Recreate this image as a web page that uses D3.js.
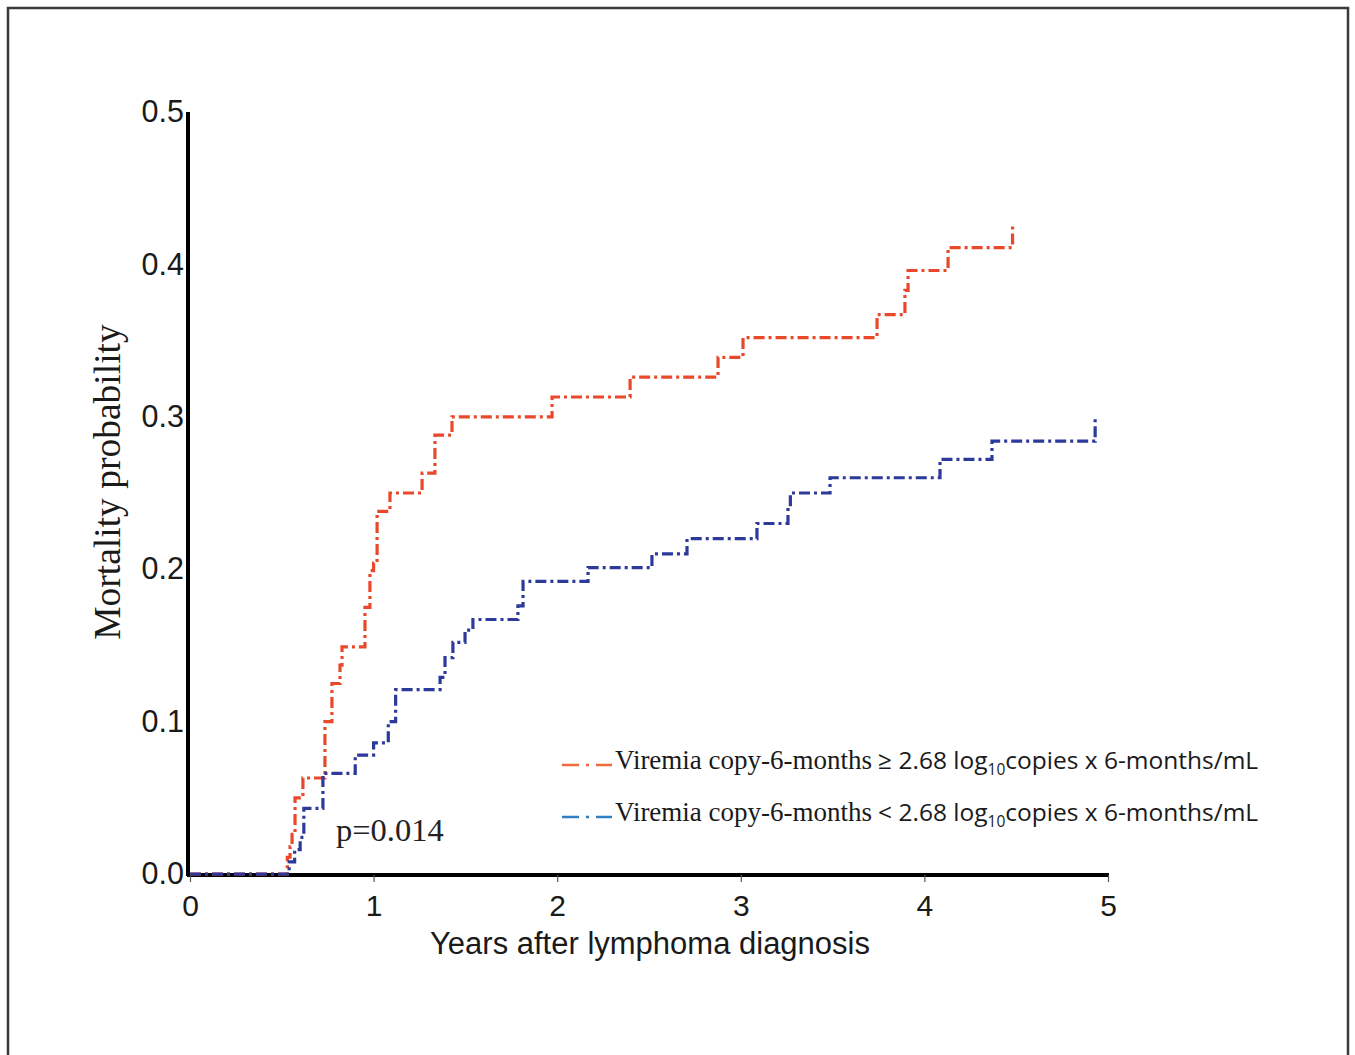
<!DOCTYPE html>
<html>
<head>
<meta charset="utf-8">
<script src="https://cdn.jsdelivr.net/npm/d3@7"></script>
<style>
  body { margin: 0; background: #fff; }
  svg { display: block; }
</style>
</head>
<body>
<div id="chart"></div>
<script>
// Kaplan-Meier style cumulative mortality
const redTimes  = [0, 0.53, 0.545, 0.556, 0.572, 0.615, 0.735, 0.773, 0.817, 0.828, 0.953, 0.98, 1.0, 1.019, 1.089, 1.264, 1.334, 1.427, 1.972, 2.397, 2.876, 3.012, 3.742, 3.894, 3.911, 4.129, 4.48];
const redProbs  = [0, 0.011, 0.018, 0.026, 0.05, 0.063, 0.1, 0.125, 0.137, 0.149, 0.175, 0.199, 0.204, 0.238, 0.25, 0.263, 0.288, 0.30, 0.313, 0.326, 0.339, 0.352, 0.367, 0.383, 0.396, 0.411, 0.425];

const blueTimes = [0, 0.54, 0.57, 0.60, 0.62, 0.724, 0.90, 1.00, 1.08, 1.12, 1.362, 1.389, 1.432, 1.498, 1.541, 1.786, 1.814, 2.168, 2.516, 2.707, 3.088, 3.257, 3.27, 3.486, 4.085, 4.368, 4.93];
const blueProbs = [0, 0.008, 0.016, 0.024, 0.043, 0.066, 0.078, 0.086, 0.10, 0.121, 0.129, 0.142, 0.152, 0.16, 0.167, 0.176, 0.192, 0.201, 0.21, 0.22, 0.23, 0.241, 0.25, 0.26, 0.272, 0.284, 0.299];

const xTicks = [0, 1, 2, 3, 4, 5];
const yTicks = [0, 0.1, 0.2, 0.3, 0.4, 0.5];

const series = [
  {name: "high", times: redTimes, probs: redProbs, color: "#e9482b", legendColor: "#ec6a3c",
   pre: "Viremia copy-6-months", sym: "\u2265"},
  {name: "low", times: blueTimes, probs: blueProbs, color: "#2d3a9c", legendColor: "#2f7fc1",
   pre: "Viremia copy-6-months", sym: "<"}
];

const W = 1355, H = 1055;
const margin = {left: 190, top: 112, right: 247, bottom: 181};
const width = W - margin.left - margin.right,
      height = H - margin.top - margin.bottom;

const svg = d3.select("#chart").append("svg")
  .attr("width", W)
  .attr("height", H);

// outer frame
svg.append("rect")
  .attr("x", 8).attr("y", 8)
  .attr("width", 1340).attr("height", 1060)
  .attr("fill", "#fff")
  .attr("stroke", "#3a3a3a")
  .attr("stroke-width", 2.5);

const g = svg.append("g")
  .attr("transform", "translate(" + margin.left + "," + margin.top + ")");

const x = d3.scaleLinear().domain([0, 5]).range([0, width]);
const y = d3.scaleLinear().domain([0, 0.5]).range([height, 0]);

// x axis
const xAxis = g.append("g")
  .attr("transform", "translate(0," + (height + 1) + ")")
  .call(d3.axisBottom(x).tickValues(xTicks).tickSize(7).tickPadding(13).tickFormat(d3.format("d")));
xAxis.select(".domain").attr("stroke", "#000").attr("stroke-width", 4)
  .attr("d", "M-3,0H" + (width + 1));
xAxis.selectAll(".tick line").attr("stroke", "#555").attr("stroke-width", 1.2);
xAxis.selectAll(".tick text")
  .attr("fill", "#1a1a1a")
  .style("font-family", "'Liberation Sans', Arial, sans-serif")
  .style("font-size", "30px");

// y axis
const yAxis = g.append("g")
  .attr("transform", "translate(-2,0)")
  .call(d3.axisLeft(y).tickValues(yTicks).tickSize(0).tickPadding(4).tickFormat(d3.format(".1f")));
yAxis.select(".domain").attr("stroke", "#000").attr("stroke-width", 4)
  .attr("d", "M0,0V" + (height + 2));
yAxis.selectAll(".tick text")
  .attr("fill", "#1a1a1a")
  .style("font-family", "'Liberation Sans', Arial, sans-serif")
  .style("font-size", "30.5px");

// curves
const line = d3.line()
  .x(d => x(d[0]))
  .y(d => y(d[1]))
  .curve(d3.curveStepAfter);

series.forEach(s => {
  const pts = s.times.map((t, i) => [t, s.probs[i]]);
  g.append("path")
    .datum(pts)
    .attr("fill", "none")
    .attr("stroke", s.color)
    .attr("stroke-width", 3.2)
    .attr("stroke-dasharray", "11,4,3,4")
    .attr("d", line);
});

// p value
g.append("text")
  .attr("x", 146).attr("y", 729)
  .style("font-family", "'Liberation Serif', 'Times New Roman', serif")
  .style("font-size", "32.5px")
  .attr("fill", "#222")
  .text("p=0.014");

// axis titles
svg.append("text")
  .attr("x", 650).attr("y", 954)
  .attr("text-anchor", "middle")
  .style("font-family", "'Liberation Sans', Arial, sans-serif")
  .style("font-size", "31px")
  .attr("fill", "#1a1a1a")
  .text("Years after lymphoma diagnosis");

svg.append("text")
  .attr("transform", "translate(120,482) rotate(-90)")
  .attr("text-anchor", "middle")
  .style("font-family", "'Liberation Serif', 'Times New Roman', serif")
  .style("font-size", "37.5px")
  .attr("fill", "#1a1a1a")
  .text("Mortality probability");

// legend
const legend = svg.append("g");
series.forEach((s, i) => {
  const ly = 765 + i * 52;
  legend.append("line")
    .attr("x1", 562).attr("x2", 612)
    .attr("y1", ly).attr("y2", ly)
    .attr("stroke", s.legendColor)
    .attr("stroke-width", 2.5)
    .attr("stroke-dasharray", "17,7,3,7,17");
  const t = legend.append("text")
    .attr("x", 615).attr("y", ly + 4)
    .attr("fill", "#1a1a1a")
    .style("font-size", "27px");
  t.append("tspan")
    .style("font-family", "'Liberation Serif', 'Times New Roman', serif")
    .text(s.pre);
  t.append("tspan")
    .attr("dx", 6)
    .style("font-family", "'Open Sans', 'Noto Sans', sans-serif")
    .style("font-size", "24.5px")
    .text(s.sym + " 2.68 log");
  t.append("tspan")
    .attr("dy", 6)
    .style("font-family", "'Open Sans', 'Noto Sans', sans-serif")
    .style("font-size", "15.5px")
    .text("10");
  t.append("tspan")
    .attr("dy", -6)
    .style("font-family", "'Open Sans', 'Noto Sans', sans-serif")
    .style("font-size", "24.5px")
    .text("copies x 6-months/mL");
});
</script>
</body>
</html>
